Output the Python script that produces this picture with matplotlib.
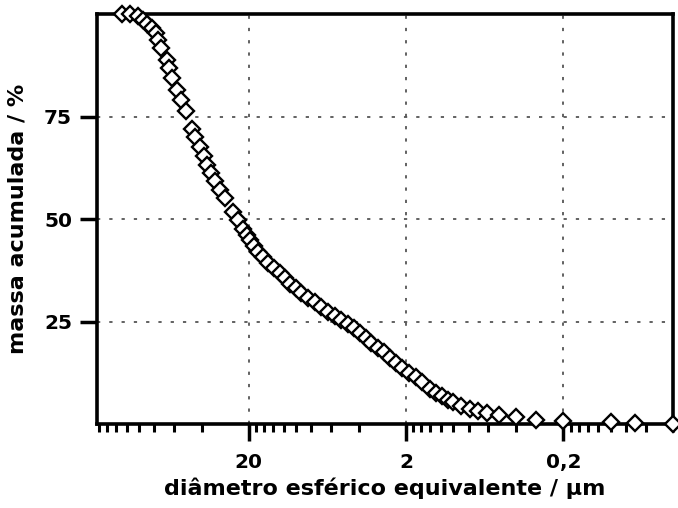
import numpy as np
import matplotlib
matplotlib.use('Agg')
import matplotlib.pyplot as plt
from matplotlib.ticker import FixedLocator, FixedFormatter, LogLocator, NullFormatter

# Data (equivalent spherical diameter in um, cumulative mass in %)
diametro = [127.4, 113.8, 101.7, 93.7, 88.4, 82.9, 78.2, 75.9, 72.7, 66.6,
            64.1, 61.9, 57.0, 54.0, 50.4, 45.8, 43.8, 40.9, 38.6, 36.7,
            34.8, 32.9, 30.5, 28.4, 25.2, 23.4, 21.7, 20.7, 19.7, 18.6,
            17.5, 16.2, 15.1, 13.8, 12.7, 11.8, 11.0, 10.07, 9.26, 8.41,
            7.63, 6.92, 6.28, 5.69, 5.16, 4.69, 4.31, 3.95, 3.62, 3.33,
            3.03, 2.78, 2.55, 2.31, 2.12, 1.92, 1.73, 1.58, 1.41, 1.29,
            1.18, 1.09, 1.01, 0.90, 0.79, 0.70, 0.61, 0.51, 0.40, 0.30,
            0.20, 0.10, 0.07, 0.04]
massa = [100.0, 100.0, 99.6, 98.5, 97.6, 96.6, 95.4, 93.7, 91.7, 88.9,
         86.8, 84.4, 81.5, 79.1, 76.3, 72.0, 70.0, 67.5, 65.4, 63.2,
         61.3, 59.2, 57.1, 55.1, 51.8, 49.9, 47.7, 46.1, 44.9, 43.5,
         42.0, 40.7, 39.2, 38.0, 36.8, 35.6, 34.3, 33.1, 32.1, 30.9,
         29.9, 28.6, 27.4, 26.4, 25.4, 24.4, 23.4, 22.2, 21.1, 19.9,
         18.7, 17.5, 16.1, 14.9, 13.7, 12.6, 11.6, 10.2, 8.6, 7.6,
         6.8, 6.0, 5.3, 4.5, 3.7, 3.1, 2.7, 2.3, 1.75, 1.1,
         0.7, 0.44, 0.3, 0.1]

x_ticks = [20, 2, 0.2]
x_ticklabels = ['20', '2', '0,2']
y_ticks = [25, 50, 75]
y_ticklabels = ['25', '50', '75']

plt.rcParams['font.family'] = ['DejaVu Sans']
plt.rcParams['font.weight'] = 'bold'

fig = plt.figure(figsize=(6.78, 5.08), dpi=100)
ax = fig.add_axes([0.143, 0.165, 0.85, 0.807])

ax.plot(diametro, massa, linestyle='none', marker='D', markersize=8.5,
        markerfacecolor='white', markeredgecolor='black', markeredgewidth=1.7,
        clip_on=False, zorder=5)

ax.set_xscale('log')
ax.set_xlim(185, 0.04)
ax.set_ylim(0, 100)

# ticks
ax.xaxis.set_major_locator(FixedLocator(x_ticks))
ax.xaxis.set_major_formatter(FixedFormatter(x_ticklabels))
ax.xaxis.set_minor_locator(LogLocator(base=10, subs=(1.0, 1.2, 1.4, 1.6, 1.8, 4, 6, 8), numticks=50))
ax.xaxis.set_minor_formatter(NullFormatter())
ax.yaxis.set_major_locator(FixedLocator(y_ticks))
ax.yaxis.set_major_formatter(FixedFormatter(y_ticklabels))

ax.tick_params(axis='both', which='major', direction='out', length=12, width=2.5,
               labelsize=14.5, pad=6)
ax.tick_params(axis='x', which='major', pad=9)
ax.tick_params(axis='x', which='minor', direction='out', length=6, width=2.2)
for lab in ax.get_xticklabels() + ax.get_yticklabels():
    lab.set_fontweight('bold')

ax.grid(True, which='major', color='#555555', linestyle=(0, (1.8, 5)), linewidth=1.3)

for sp in ax.spines.values():
    sp.set_linewidth(2.6)

ax.set_xlabel('diâmetro esférico equivalente / μm', fontsize=16, fontweight='bold', labelpad=4)
ax.set_ylabel('massa acumulada / %', fontsize=16, fontweight='bold', labelpad=12)

fig.savefig('out.png', dpi=100)
